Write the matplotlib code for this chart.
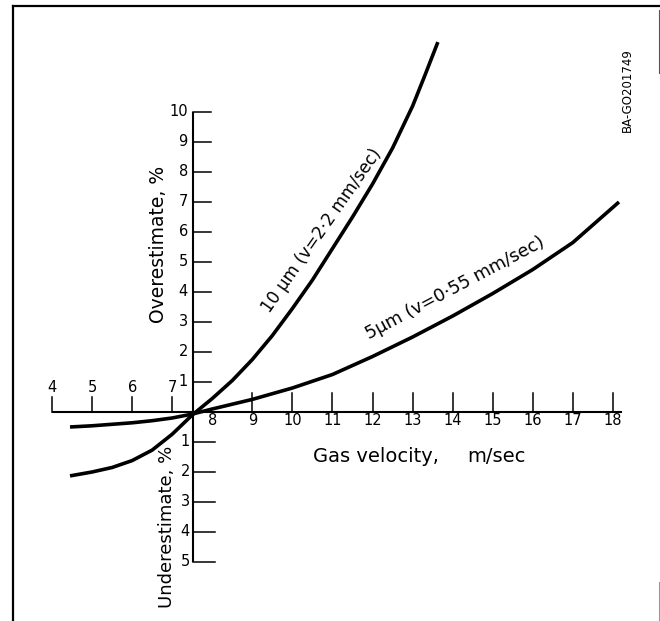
import matplotlib
matplotlib.use("Agg")
import matplotlib.pyplot as plt
from matplotlib.lines import Line2D

plt.rcParams['font.family'] = ['DejaVu Sans']

# ---- data ----
x10 = [4.45, 5.0, 5.5, 6.0, 6.5, 7.0, 7.5, 8.0, 8.5, 9.0, 9.5, 10.0, 10.5, 11.0, 11.5, 12.0, 12.5, 13.0, 13.3, 13.63]
y10 = [-2.13, -2.0, -1.85, -1.62, -1.27, -0.74, -0.1, 0.45, 1.05, 1.75, 2.55, 3.45, 4.4, 5.45, 6.5, 7.6, 8.8, 10.2, 11.2, 12.33]

x5 = [4.45, 5.0, 5.5, 6.0, 6.5, 7.0, 7.5, 8.0, 8.5, 9.0, 10.0, 11.0, 12.0, 13.0, 14.0, 15.0, 16.0, 17.0, 18.15]
y5 = [-0.5, -0.46, -0.41, -0.36, -0.29, -0.2, -0.07, 0.1, 0.26, 0.42, 0.8, 1.25, 1.85, 2.5, 3.2, 3.95, 4.75, 5.65, 7.0]

xticks_left = [4, 5, 6, 7]
xticks_right = [8, 9, 10, 11, 12, 13, 14, 15, 16, 17, 18]
yticks_over = [1, 2, 3, 4, 5, 6, 7, 8, 9, 10]
yticks_under = [1, 2, 3, 4, 5]

label10 = "10 \u03bcm (v=2\u00b72 mm/sec)"
label5 = "5\u03bcm (v=0\u00b755 mm/sec)"

# ---- figure ----
fig = plt.figure(figsize=(6.6, 6.21), dpi=100)
ax = fig.add_axes([0, 0, 1, 1])
ax.set_xlim(2.7023, 19.1735)
ax.set_ylim(-6.967, 13.733)
ax.axis('off')

X0 = 7.52  # position of vertical axis

# main axes lines
ax.plot([4, 18.22], [0, 0], color='black', lw=1.5, solid_capstyle='butt')
ax.plot([X0, X0], [-5, 10], color='black', lw=1.5, solid_capstyle='butt')

# x ticks (all point upward)
for v in xticks_left:
    ax.plot([v, v], [0, 0.5], color='black', lw=1.1)
    ax.text(v, 0.83, str(v), ha='center', va='center', fontsize=10.5)
for v in xticks_right:
    if v != 8:
        ax.plot([v, v], [0, 0.63], color='black', lw=1.1)
    ax.text(v, -0.3, str(v), ha='center', va='center', fontsize=10.5)

# y ticks (point to the right)
for v in yticks_over:
    ax.plot([X0, 7.97], [v, v], color='black', lw=1.1)
    ax.text(7.39, v, str(v), ha='right', va='center', fontsize=10.5)
for v in yticks_under:
    ax.plot([X0, 8.07], [-v, -v], color='black', lw=1.1)
    ax.text(7.44, -v, str(v), ha='right', va='center', fontsize=10.5)

# curves
ax.plot(x10, y10, color='black', lw=2.6, solid_capstyle='butt', solid_joinstyle='round')
ax.plot(x5, y5, color='black', lw=2.6, solid_capstyle='butt', solid_joinstyle='round')

# curve labels
ax.text(10.72, 6.03, label10, rotation=55, rotation_mode='anchor',
        ha='center', va='center', fontsize=12.2)
ax.text(14.06, 4.13, label5, rotation=28, rotation_mode='anchor',
        ha='center', va='center', fontsize=12.8)

# axis labels
ax.text(6.65, 5.57, "Overestimate, %", rotation=90, ha='center', va='center', fontsize=13.5)
ax.text(6.87, -3.83, "Underestimate, %", rotation=90, ha='center', va='center', fontsize=13)
ax.text(10.51, -1.5, "Gas velocity,", ha='left', va='center', fontsize=14)
ax.text(14.36, -1.5, "m/sec", ha='left', va='center', fontsize=14)
ax.text(18.35, 10.73, "BA-GO201749", rotation=90, ha='center', va='center', fontsize=8.5)

# frame lines of the scanned page
W, H = 660.0, 621.0
def fl(x0, y0, x1, y1, lw=1.5, color='black'):
    fig.add_artist(Line2D([x0 / W, x1 / W], [1 - y0 / H, 1 - y1 / H],
                          transform=fig.transFigure, color=color, lw=lw))
fl(13, 6, 660, 6, lw=1.6)
fl(13, 6, 13, 621, lw=1.6)
fl(659, 10, 659, 73, lw=0.8, color='#555555')
fl(659, 582, 659, 621, lw=0.8, color='#999999')

fig.savefig("out.png", dpi=100)
